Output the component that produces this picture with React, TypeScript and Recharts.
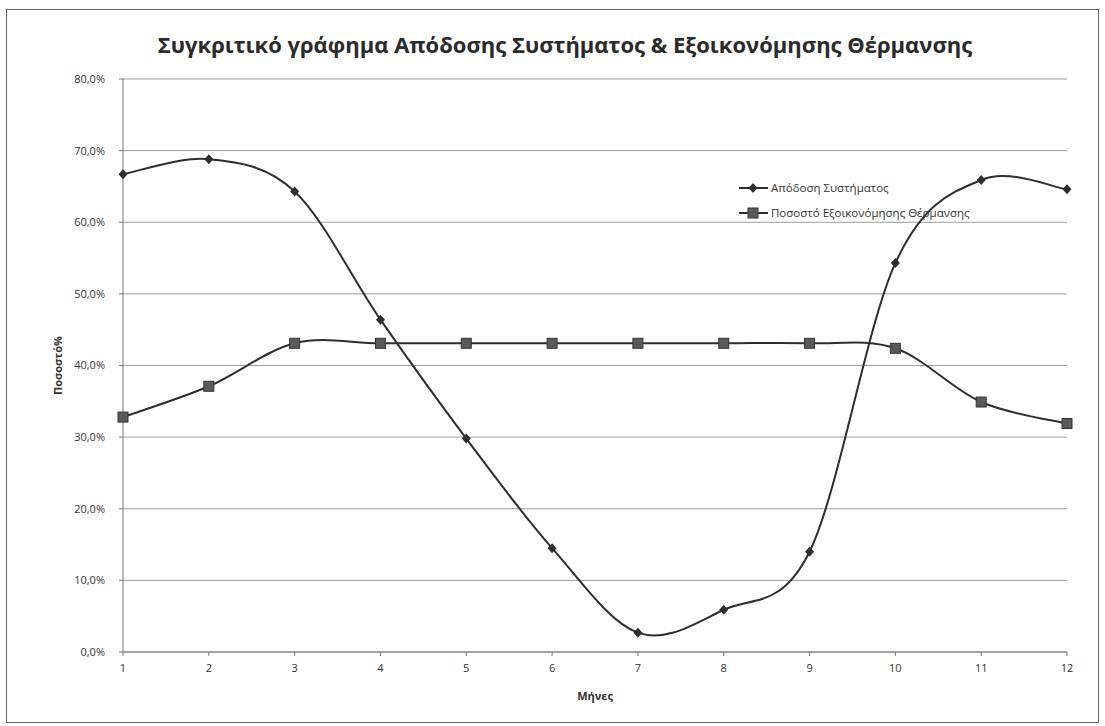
import React from 'react';
import { LineChart, Line, XAxis, YAxis, CartesianGrid, Legend, Label } from 'recharts';

const months = [1, 2, 3, 4, 5, 6, 7, 8, 9, 10, 11, 12];
const systemEfficiency = [66.7, 68.8, 64.3, 46.4, 29.8, 14.5, 2.7, 5.9, 14.0, 54.3, 65.9, 64.6];
const heatingSavings = [32.8, 37.1, 43.1, 43.1, 43.1, 43.1, 43.1, 43.1, 43.1, 42.4, 34.9, 31.9];
const yTicks = [0, 10, 20, 30, 40, 50, 60, 70, 80];

const SERIES_A = 'Απόδοση Συστήματος';
const SERIES_B = 'Ποσοστό Εξοικονόμησης Θέρμανσης';

const data = months.map((m, i) => ({
  m,
  eff: systemEfficiency[i],
  save: heatingSavings[i],
}));

const FONT = '"Open Sans", "DejaVu Sans", sans-serif';

// spreadsheet-style smoothed line: bezier with control points at (next - prev) / 6
const smoothCurve = (context: any) => {
  let pts: [number, number][] = [];
  return {
    areaStart() {},
    areaEnd() {},
    lineStart() {
      pts = [];
    },
    lineEnd() {
      if (!pts.length) return;
      context.moveTo(pts[0][0], pts[0][1]);
      for (let i = 0; i < pts.length - 1; i++) {
        const p0 = pts[i - 1] || pts[i];
        const p1 = pts[i];
        const p2 = pts[i + 1];
        const p3 = pts[i + 2] || p2;
        context.bezierCurveTo(
          p1[0] + (p2[0] - p0[0]) / 6,
          p1[1] + (p2[1] - p0[1]) / 6,
          p2[0] - (p3[0] - p1[0]) / 6,
          p2[1] - (p3[1] - p1[1]) / 6,
          p2[0],
          p2[1]
        );
      }
    },
    point(x: number, y: number) {
      pts.push([+x, +y]);
    },
  };
};

const Diamond = ({ cx, cy }: { cx: number; cy: number }) => (
  <path d={`M${cx},${cy - 5}L${cx + 4.5},${cy}L${cx},${cy + 5}L${cx - 4.5},${cy}Z`} fill="#2e2e2e" />
);

const Square = ({ cx, cy }: { cx: number; cy: number }) => (
  <rect x={cx - 5} y={cy - 5} width={10} height={10} fill="#5a5a5a" stroke="#333" strokeWidth={1} />
);

const renderDiamond = (p: any) => <Diamond key={`d-${p.index}`} cx={p.cx} cy={p.cy} />;
const renderSquare = (p: any) => <Square key={`s-${p.index}`} cx={p.cx} cy={p.cy} />;

const LegendBox = () => (
  <div style={{ fontFamily: FONT, fontSize: 11.5, color: '#333', lineHeight: '25px' }}>
    {[
      { name: SERIES_A, mark: <Diamond cx={15} cy={7} /> },
      { name: SERIES_B, mark: <Square cx={15} cy={7} /> },
    ].map((e) => (
      <div key={e.name} style={{ display: 'flex', alignItems: 'center', height: 25 }}>
        <svg width={31} height={14} style={{ marginRight: 2 }}>
          <line x1={1} y1={7} x2={30} y2={7} stroke="#2e2e2e" strokeWidth={2} />
          {e.mark}
        </svg>
        <span>{e.name}</span>
      </div>
    ))}
  </div>
);

export default function App() {
  return (
    <div style={{ position: 'absolute', left: 0, top: 0, width: 1105, height: 726, background: '#fff' }}>
      <div
        style={{
          position: 'absolute',
          left: 6,
          top: 9,
          width: 1091,
          height: 712,
          border: '1px solid #666',
        }}
      />
      <div
        style={{
          position: 'absolute',
          left: 0,
          width: 1130,
          top: 29,
          textAlign: 'center',
          fontFamily: FONT,
          fontWeight: 700,
          fontSize: 22,
          color: '#2a2a2a',
        }}
      >
        Συγκριτικό γράφημα Απόδοσης Συστήματος &amp; Εξοικονόμησης Θέρμανσης
      </div>
      <div style={{ position: 'absolute', left: 0, top: 0 }}>
        <LineChart width={1105} height={726} data={data} margin={{ top: 79, right: 38, bottom: 0, left: 0 }}>
          <CartesianGrid vertical={false} stroke="#9c9c9c" strokeWidth={1} />
          <XAxis
            dataKey="m"
            type="number"
            domain={[1, 12]}
            ticks={months}
            height={74}
            stroke="#777"
            tickSize={4}
            tickMargin={8}
            tick={{ fill: '#333', fontSize: 11, fontFamily: FONT }}
          >
            <Label
              value="Μήνες"
              position="insideBottom"
              offset={26}
              style={{ fill: '#333', fontSize: 11, fontWeight: 700, fontFamily: FONT }}
            />
          </XAxis>
          <YAxis
            domain={[0, 80]}
            ticks={yTicks}
            width={123}
            stroke="#777"
            tickSize={4}
            tickMargin={14}
            tickFormatter={(v: number) => `${v.toFixed(1).replace('.', ',')}%`}
            tick={{ fill: '#333', fontSize: 11, fontFamily: FONT }}
          >
            <Label
              value="Ποσοστό%"
              angle={-90}
              position="center"
              dx={-3}
              style={{ fill: '#333', fontSize: 11, fontWeight: 700, fontFamily: FONT }}
            />
          </YAxis>
          <Legend
            layout="vertical"
            align="center"
            verticalAlign="middle"
            content={() => <LegendBox />}
            wrapperStyle={{ left: 738, top: 175, width: 300, height: 50 }}
          />
          <Line
            name={SERIES_A}
            dataKey="eff"
            type={smoothCurve as any}
            stroke="#2e2e2e"
            strokeWidth={2}
            dot={renderDiamond}
            activeDot={false}
            isAnimationActive={false}
          />
          <Line
            name={SERIES_B}
            dataKey="save"
            type={smoothCurve as any}
            stroke="#2e2e2e"
            strokeWidth={2}
            dot={renderSquare}
            activeDot={false}
            isAnimationActive={false}
          />
        </LineChart>
      </div>
    </div>
  );
}
